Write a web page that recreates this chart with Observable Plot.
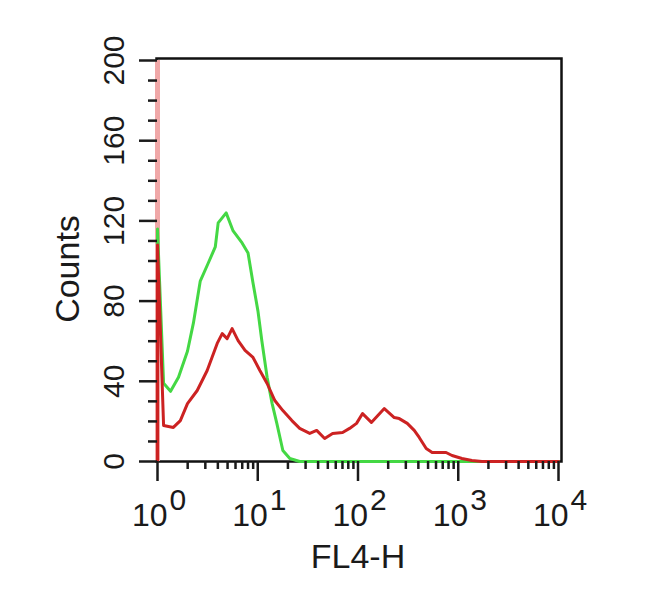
<!DOCTYPE html>
<html><head><meta charset="utf-8">
<script src="https://cdn.jsdelivr.net/npm/d3@7"></script>
<script src="https://cdn.jsdelivr.net/npm/@observablehq/plot@0.6"></script>
<style>body{margin:0;background:#fff}</style>
</head><body><div id="chart"></div>
<script>
// FL4-H channel values and counts
const greenX = [1, 1, 1.15, 1.35, 1.62, 1.99, 2.28, 2.67, 3.21, 3.77, 4.03, 4.84, 5.68, 6.98, 8.0, 8.97, 10.05, 11.0, 12.4, 13.9, 15.5, 17.8, 20.9, 26.2, 10000];
const greenCount = [0, 116, 39, 35, 42, 55, 69, 90, 99, 107, 119, 124, 115, 109, 104, 89, 75, 60, 42, 29, 19, 5.5, 1.5, 0, 0];
const redX = [1, 1, 1.15, 1.44, 1.69, 1.99, 2.49, 3.13, 3.94, 4.42, 4.95, 5.55, 6.37, 7.47, 8.97, 10.5, 12.4, 14.8, 17.8, 21.9, 26.2, 33.0, 38.7, 46.5, 55.8, 70.2, 82.4, 96.7, 111, 136, 183, 230, 258, 310, 364, 408, 479, 549, 756, 867, 1089, 1369, 1721, 10000];
const redCount = [0, 108, 18, 17, 20.4, 28.9, 35.4, 45.4, 58.9, 63.8, 61.3, 66.3, 60.3, 55.4, 51.9, 45.4, 38.9, 30.4, 25.4, 20.4, 16.5, 14, 15.5, 11.5, 14, 14.5, 16.5, 19, 23.9, 19.5, 26.4, 21.9, 21.4, 19, 15.5, 12, 6.5, 4.5, 4.5, 3, 1.5, 0.5, 0, 0];

const yMajorTicks = [0, 40, 80, 120, 160, 200];
const yMinorTicks = [10, 20, 30, 50, 60, 70, 90, 100, 110, 130, 140, 150, 170, 180, 190];
const xMajorTicks = [1, 10, 100, 1000, 10000];
const xExponents = ["0", "1", "2", "3", "4"];
const xMinorMultipliers = [2, 3, 4, 5, 6, 7, 8, 9];
const xMinorTicks = [1, 10, 100, 1000].flatMap(d => xMinorMultipliers.map(m => m * d));

const green = greenX.map((x, i) => ({x, count: greenCount[i]}));
const red = redX.map((x, i) => ({x, count: redCount[i]}));
const xLabels = xMajorTicks.map((v, i) => ({v, e: xExponents[i]}));

const chart = Plot.plot({
  width: 650, height: 590,
  marginLeft: 157, marginRight: 92, marginTop: 60, marginBottom: 129,
  style: {fontFamily: "'Liberation Sans', Arial, sans-serif", background: "white", color: "#1a1a1a"},
  x: {type: "log", domain: [1, 1e4], axis: null},
  y: {domain: [0, 200], axis: null},
  marks: [
    Plot.frame({stroke: "#111", strokeWidth: 2.5, insetTop: -2, insetRight: -3, insetLeft: -1}),
    Plot.ruleX([1], {stroke: "#f0a8a8", strokeWidth: 5}),
    Plot.line(green, {x: "x", y: "count", stroke: "#44d844", strokeWidth: 3}),
    Plot.line(red, {x: "x", y: "count", stroke: "#cc2222", strokeWidth: 3}),
    Plot.axisY(yMinorTicks, {label: null, tickSize: 9, strokeWidth: 2.5, tickFormat: () => ""}),
    Plot.axisY(yMajorTicks, {label: null, tickSize: 18, strokeWidth: 2.5, tickRotate: -90, tickPadding: 16, fontSize: 30}),
    Plot.axisX(xMinorTicks, {label: null, tickSize: 8, strokeWidth: 2.5, tickFormat: () => ""}),
    Plot.axisX(xMajorTicks, {label: null, tickSize: 20, strokeWidth: 2.5, tickFormat: () => ""}),
    Plot.text(xLabels, {x: "v", text: () => "10", frameAnchor: "bottom", textAnchor: "end", lineAnchor: "bottom", dx: 10, dy: 64, fontSize: 32}),
    Plot.text(xLabels, {x: "v", text: "e", frameAnchor: "bottom", textAnchor: "start", lineAnchor: "bottom", dx: 12, dy: 48, fontSize: 30}),
    Plot.text(["FL4-H"], {frameAnchor: "bottom", lineAnchor: "bottom", dy: 106, fontSize: 34}),
    Plot.text(["Counts"], {frameAnchor: "left", textAnchor: "middle", rotate: -90, lineAnchor: "bottom", dx: -79, dy: 8, fontSize: 34})
  ]
});
document.getElementById("chart").append(chart);
</script>
</body></html>
